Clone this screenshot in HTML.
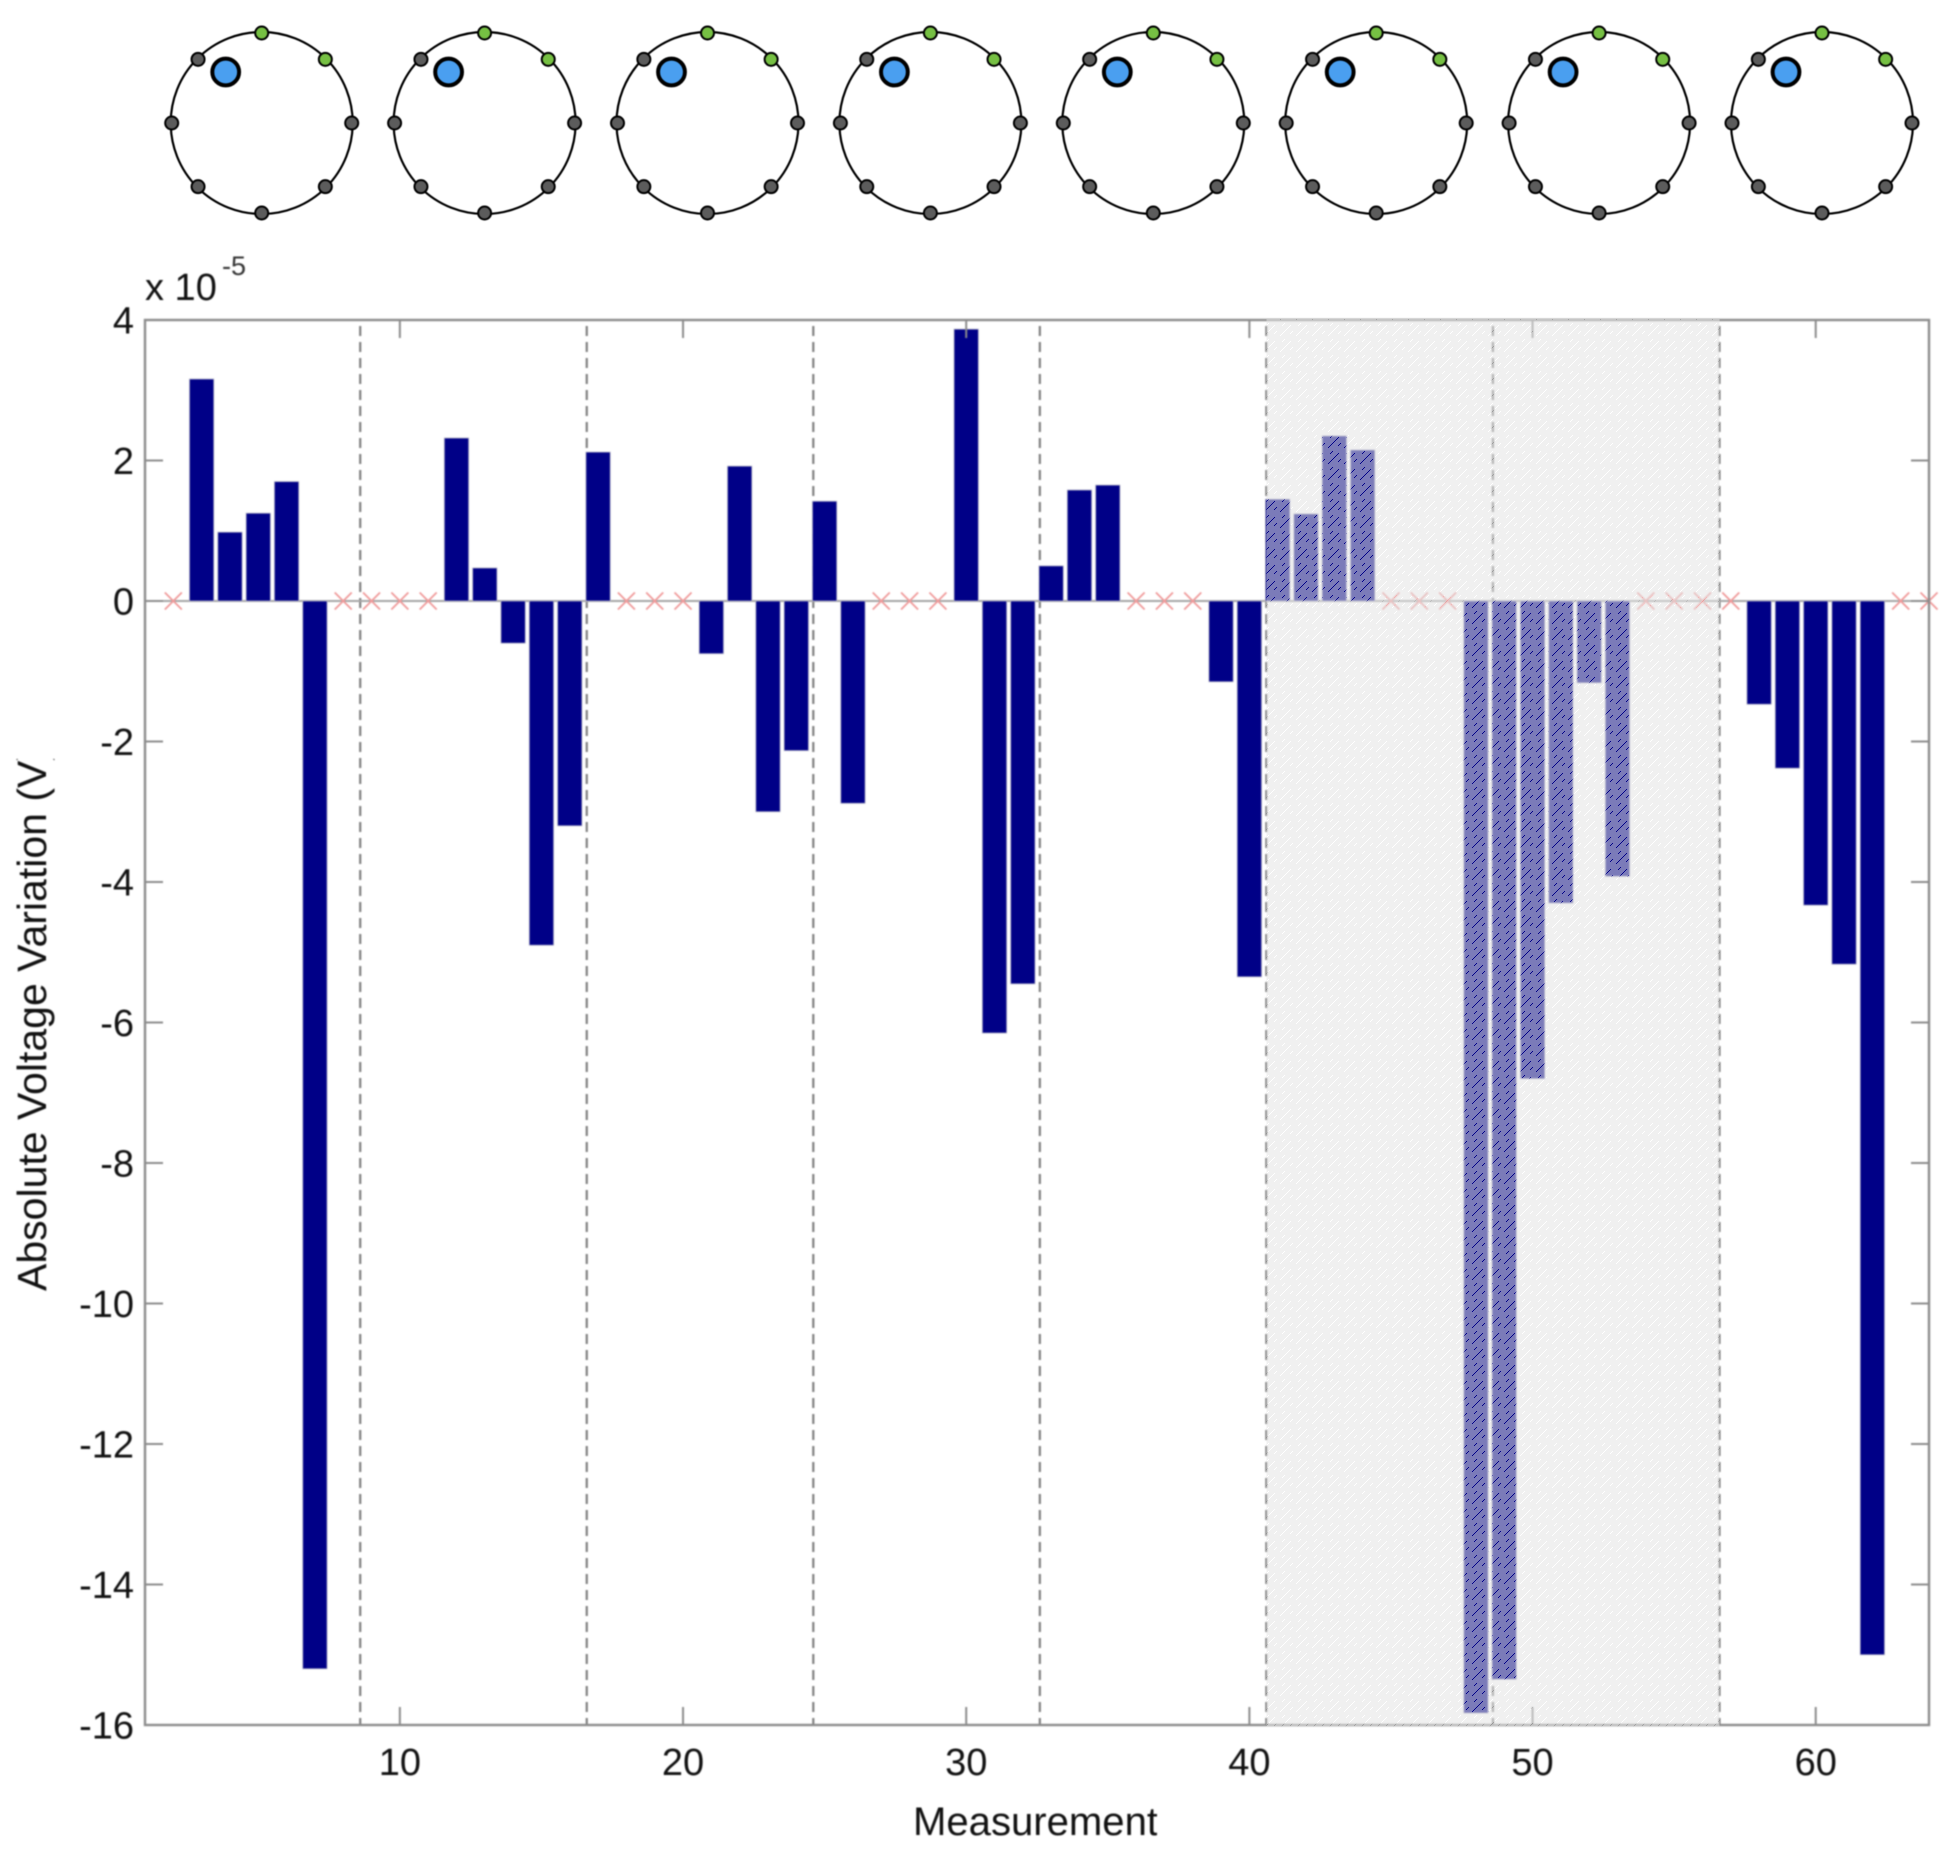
<!DOCTYPE html>
<html lang="en">
<head>
<meta charset="utf-8">
<title>Absolute Voltage Variation by Measurement</title>
<style>
html,body{margin:0;padding:0;background:#fff;}
#chart{display:block;width:1951px;height:1857px;}
text{font-family:"Liberation Sans",Arial,sans-serif;fill:#111;}
.soft{filter:blur(0.7px);}
.soft-light{filter:blur(0.4px);}
</style>
</head>
<body>
<svg id="chart" xmlns="http://www.w3.org/2000/svg" width="1951" height="1857" viewBox="0 0 1951 1857">
  <defs>
    <pattern id="shade-hatch" patternUnits="userSpaceOnUse" width="16" height="16" x="0" y="0">
      <path id="shade-tile" fill="rgb(227,227,227)" fill-opacity="0.54" fill-rule="evenodd" shape-rendering="crispEdges" d=""></path>
    </pattern>
    <clipPath id="y-title-clip"><rect x="0" y="759" width="100" height="600"></rect></clipPath>
    <clipPath id="x-title-clip"><rect x="880" y="1790" width="277" height="60"></rect></clipPath>
  </defs>
  <rect x="0" y="0" width="1951" height="1857" fill="#ffffff"></rect>
  <g id="montages" class="soft-light"></g>
  <g id="plot" class="soft"></g>
  <g id="overlay"></g>
  <g class="soft">
    <text x="145" y="300" font-size="38">x 10</text>
    <text x="222" y="275" font-size="27" style="fill:#333">-5</text>
    <g clip-path="url(#x-title-clip)">
      <text x="1035.5" y="1835" font-size="40" text-anchor="middle" textLength="245" lengthAdjust="spacingAndGlyphs">Measurement</text>
    </g>
    <g clip-path="url(#y-title-clip)">
      <text transform="translate(46,1291) rotate(-90)" x="0" y="0" font-size="40.6" textLength="544" lengthAdjust="spacingAndGlyphs">Absolute Voltage Variation (V)</text>
    </g>
  </g>
</svg>
<script>
var categories = [2,3,4,5,6,7,8,9,10,11,12,13,14,15,16,17,18,19,20,21,22,23,24,25,26,27,28,29,30,31,32,33,34,35,36,37,38,39,40,41,42,43,44,45,46,47,48,49,50,51,52,53,54,55,56,57,58,59,60,61,62,63,64];
var barValues = [null,3.16,0.98,1.25,1.70,-15.2,null,null,null,null,2.32,0.47,-0.6,-4.9,-3.2,2.12,null,null,null,-0.75,1.92,-3.0,-2.13,1.42,-2.88,null,null,null,3.87,-6.15,-5.45,0.5,1.58,1.65,null,null,null,-1.15,-5.35,1.45,1.24,2.35,2.15,null,null,null,-15.83,-15.35,-6.8,-4.3,-1.165,-3.92,null,null,null,null,-1.47,-2.38,-4.33,-5.17,-15.0,null,null];
var xTickLabels = [10,20,30,40,50,60];
var yTickLabels = [4,2,0,-2,-4,-6,-8,-10,-12,-14,-16];
var groupBoundaries = [8.6,16.6,24.6,32.6,40.6,48.6,56.6];
var shadedRange = [40.6,56.6];
var xDomain = [1,64];
var yDomain = [-16,4];
var electrodeAngles = [90,45,0,-45,-90,-135,180,135];
var activeElectrodes = [90,45];
var montageCount = 8;

var NS = 'http://www.w3.org/2000/svg';
var plotLeft = 145, plotRight = 1929, plotTop = 320, plotBottom = 1725;
function xScale(v){ return plotLeft + (v - xDomain[0]) * (plotRight - plotLeft) / (xDomain[1] - xDomain[0]); }
function yScale(v){ return plotBottom - (v - yDomain[0]) * (plotBottom - plotTop) / (yDomain[1] - yDomain[0]); }
function make(tag, attrs, parent){
  var el = document.createElementNS(NS, tag);
  for (var k in attrs) el.setAttribute(k, attrs[k]);
  parent.appendChild(el);
  return el;
}

/* hatch tile: transparent pixels in an otherwise tinted tile */
(function(){
  var d = 'M0 0H16V16H0Z';
  function hole(x, y){ d += 'M' + x + ' ' + y + 'h1v1h-1Z'; }
  var x;
  for (x = 0; x <= 10; x++) hole(x, 15 - x);
  for (x = 2; x <= 4; x++) hole(x, 7 - x);
  for (x = 10; x <= 12; x++) hole(x, 23 - x);
  document.getElementById('shade-tile').setAttribute('d', d);
})();

/* electrode montages */
var montages = document.getElementById('montages');
for (var m = 0; m < montageCount; m++) {
  var cx = 261.7 + m * 222.9, cy = 123, R = 91, Re = 90;
  var g = make('g', {}, montages);
  
  
  var ring = make('circle', {cx: cx, cy: cy, r: R, fill: 'none', stroke: '#000', 'stroke-width': 2.2}, g);
  
  
  electrodeAngles.forEach(function(a){
    var rad = a * Math.PI / 180;
    var on = activeElectrodes.indexOf(a) >= 0;
    var dot = make('circle', {cx: cx + Re * Math.cos(rad), cy: cy - Re * Math.sin(rad), r: 6.5, fill: on ? '#76c043' : '#5c5c5c', stroke: '#000', 'stroke-width': 2}, g);
    
    
  });
  var src = make('circle', {cx: cx - 36, cy: cy - 51, r: 13.4, fill: '#4a9ff0', stroke: '#000', 'stroke-width': 4}, g);
  
  
}

/* plot */
var plot = document.getElementById('plot');
var axisColor = '#8c8c8c';

var boundaryGroup = make('g', {}, plot);


groupBoundaries.forEach(function(b){
  var ln = make('line', {x1: xScale(b), x2: xScale(b), y1: plotTop + 6, y2: plotBottom, stroke: '#808080', 'stroke-width': 2.2, 'stroke-dasharray': '10 6'}, boundaryGroup);
  
  
});

var baseline = make('line', {x1: plotLeft, x2: plotRight, y1: yScale(0), y2: yScale(0), stroke: '#a6a6a6', 'stroke-width': 2}, plot);



var barGroup = make('g', {}, plot);


var markerGroup = make('g', {}, plot);


var barWidth = 0.86 * (xScale(1) - xScale(0));

categories.forEach(function(c, i){
  var v = barValues[i];
  var px = xScale(c), y0 = yScale(0);
  if (v === null) {
    var s = 8.5;
    var mk = make('path', {d: 'M' + (px - s) + ' ' + (y0 - s) + 'L' + (px + s) + ' ' + (y0 + s) + 'M' + (px - s) + ' ' + (y0 + s) + 'L' + (px + s) + ' ' + (y0 - s), fill: 'none', stroke: '#f09a9a', 'stroke-width': 1.8}, markerGroup);
    
    
  } else {
    var yv = yScale(v);
    var bar = make('rect', {x: px - barWidth / 2, y: Math.min(y0, yv), width: barWidth, height: Math.abs(yv - y0), fill: '#000087', stroke: '#b4b4c8', 'stroke-width': 0.8}, barGroup);
    
    
  }
});

/* axes box */
var frame = make('rect', {x: plotLeft, y: plotTop, width: plotRight - plotLeft, height: plotBottom - plotTop, fill: 'none', stroke: axisColor, 'stroke-width': 2.4}, plot);



xTickLabels.forEach(function(t){
  var px = xScale(t);
  var t1 = make('line', {x1: px, x2: px, y1: plotBottom, y2: plotBottom - 18, stroke: axisColor, 'stroke-width': 2}, plot);
  
  
  var t2 = make('line', {x1: px, x2: px, y1: plotTop, y2: plotTop + 18, stroke: axisColor, 'stroke-width': 2}, plot);
  
  
  var lab = make('text', {x: px, y: 1775, 'font-size': 38, 'text-anchor': 'middle'}, plot);
  lab.textContent = String(t);
  
  
});

yTickLabels.forEach(function(t){
  var py = yScale(t);
  var t1 = make('line', {x1: plotLeft, x2: plotLeft + 18, y1: py, y2: py, stroke: axisColor, 'stroke-width': 2}, plot);
  
  
  var t2 = make('line', {x1: plotRight, x2: plotRight - 18, y1: py, y2: py, stroke: axisColor, 'stroke-width': 2}, plot);
  
  
  var lab = make('text', {x: 134, y: py + 13.5, 'font-size': 38, 'text-anchor': 'end'}, plot);
  lab.textContent = String(t);
  
  
});

/* shaded excluded region, drawn over everything it covers */
var overlay = document.getElementById('overlay');
var shade = make('rect', {x: xScale(shadedRange[0]), y: plotTop - 1, width: xScale(shadedRange[1]) - xScale(shadedRange[0]), height: plotBottom - plotTop + 3, fill: 'url(#shade-hatch)', 'shape-rendering': 'crispEdges'}, overlay);


</script>
</body>
</html>
